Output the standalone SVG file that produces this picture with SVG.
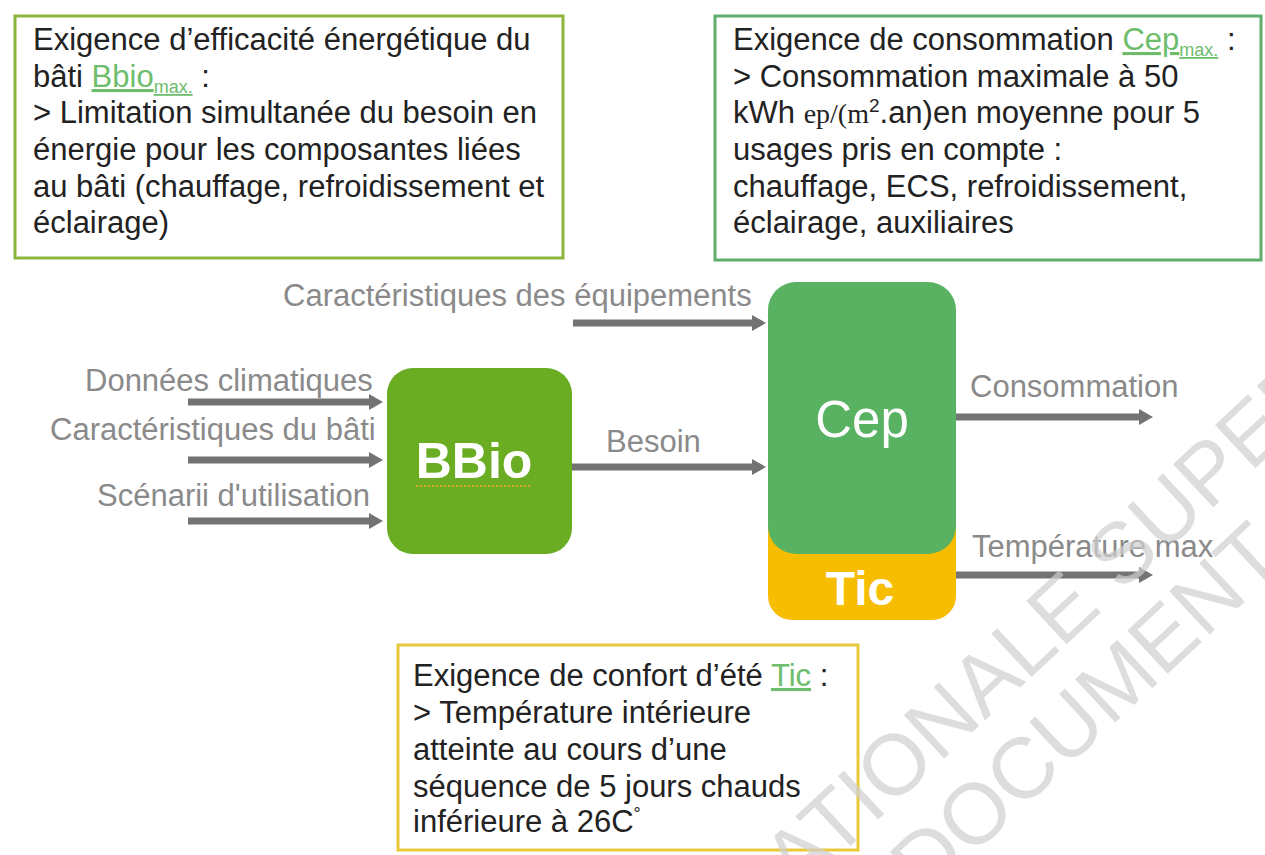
<svg xmlns="http://www.w3.org/2000/svg" width="1265" height="855" viewBox="0 0 1265 855">
<defs>
<style>
.t{font-family:"Liberation Sans",Arial,sans-serif;font-size:31px;fill:#222}
.lbl{font-family:"Liberation Sans",Arial,sans-serif;font-size:31px;fill:#8a8a8a}
.lnk{fill:#6dbd6d;text-decoration:underline}
.sub{font-size:18px}
.ser{font-family:"Liberation Serif","Times New Roman",serif}
.big{font-family:"Liberation Sans",Arial,sans-serif;fill:#fff;text-anchor:middle}
.arr{stroke:#737373;stroke-width:7;fill:none;marker-end:url(#ah)}
.wm{font-family:"Liberation Sans",Arial,sans-serif;font-size:86px;fill:#cfcfcf;fill-opacity:0.7}
</style>
<marker id="ah" markerWidth="14" markerHeight="16" refX="4" refY="8" orient="auto" markerUnits="userSpaceOnUse">
<path d="M0,0 L14,8 L0,16 Z" fill="#737373"/>
</marker>
</defs>
<rect width="1265" height="855" fill="#fff"/>

<g id="box-bbio-req">
<rect x="15" y="16" width="548" height="242" fill="#fff" stroke="#8db53c" stroke-width="3"/>
<text class="t" x="33" y="50">Exigence d’efficacité énergétique du</text>
<text class="t" x="33" y="87">bâti <tspan class="lnk">Bbio</tspan><tspan class="lnk sub" dy="6">max.</tspan><tspan dy="-6"> :</tspan></text>
<text class="t" x="33" y="123">&gt; Limitation simultanée du besoin en</text>
<text class="t" x="33" y="160">énergie pour les composantes liées</text>
<text class="t" x="33" y="197">au bâti (chauffage, refroidissement et</text>
<text class="t" x="33" y="233">éclairage)</text>
</g>

<g id="box-cep-req">
<rect x="715" y="16" width="546" height="244" fill="#fff" stroke="#5fae6e" stroke-width="3"/>
<text class="t" x="733" y="50">Exigence de consommation <tspan class="lnk">Cep</tspan><tspan class="lnk sub" dy="6">max.</tspan><tspan dy="-6"> :</tspan></text>
<text class="t" x="733" y="87">&gt; Consommation maximale à 50</text>
<text class="t" x="733" y="123">kWh <tspan class="ser" font-size="28">ep/(m</tspan><tspan font-size="19" dy="-11">2</tspan><tspan dy="11">.an)en moyenne pour 5</tspan></text>
<text class="t" x="733" y="160">usages pris en compte :</text>
<text class="t" x="733" y="197">chauffage, ECS, refroidissement,</text>
<text class="t" x="733" y="233">éclairage, auxiliaires</text>
</g>

<g id="box-tic-req">
<rect x="398" y="645" width="460" height="205" fill="#fff" stroke="#e9c83a" stroke-width="3"/>
<text class="t" x="413" y="686">Exigence de confort d’été <tspan class="lnk">Tic</tspan> :</text>
<text class="t" x="413" y="723">&gt; Température intérieure</text>
<text class="t" x="413" y="760">atteinte au cours d’une</text>
<text class="t" x="413" y="797">séquence de 5 jours chauds</text>
<text class="t" x="413" y="832">inférieure à 26C<tspan font-size="18" dy="-12">°</tspan></text>
</g>

<g id="node-bbio">
<rect x="387" y="368" width="185" height="186" rx="26" fill="#6aac22"/>
<text class="big" x="474" y="478" font-size="50" font-weight="bold">BBio</text>
<path d="M416,486 L532,486" stroke="#d9a528" stroke-width="2" stroke-dasharray="2,2"/>
</g>

<g id="node-cep-tic">
<rect x="768" y="440" width="188" height="180" rx="24" fill="#f7bd00"/>
<rect x="768" y="282" width="188" height="272" rx="28" fill="#58b262"/>
<text class="big" x="862" y="437" font-size="51">Cep</text>
<text class="big" x="860" y="605" font-size="48" font-weight="bold">Tic</text>
</g>

<g id="connectors">
<path class="arr" d="M188,402 H373"/>
<path class="arr" d="M188,460 H373"/>
<path class="arr" d="M188,521 H373"/>
<path class="arr" d="M573,323 H756"/>
<path class="arr" d="M572,467 H756"/>
<path class="arr" d="M956,417 H1143"/>
<path class="arr" d="M956,575 H1143"/>
</g>

<g id="labels">
<text class="lbl" x="283" y="306">Caractéristiques des équipements</text>
<text class="lbl" x="85" y="391">Données climatiques</text>
<text class="lbl" x="50" y="440">Caractéristiques du bâti</text>
<text class="lbl" x="97" y="506">Scénarii d'utilisation</text>
<text class="lbl" x="606" y="452">Besoin</text>
<text class="lbl" x="970" y="397">Consommation</text>
<text class="lbl" x="972" y="557">Température max</text>
</g>

<g id="watermark">
<text class="wm" transform="translate(751.5,938) rotate(-43)">NATIONALE SUPERIEURE</text>
<text class="wm" transform="translate(925,900) rotate(-43)">DOCUMENT</text>
</g>
</svg>
